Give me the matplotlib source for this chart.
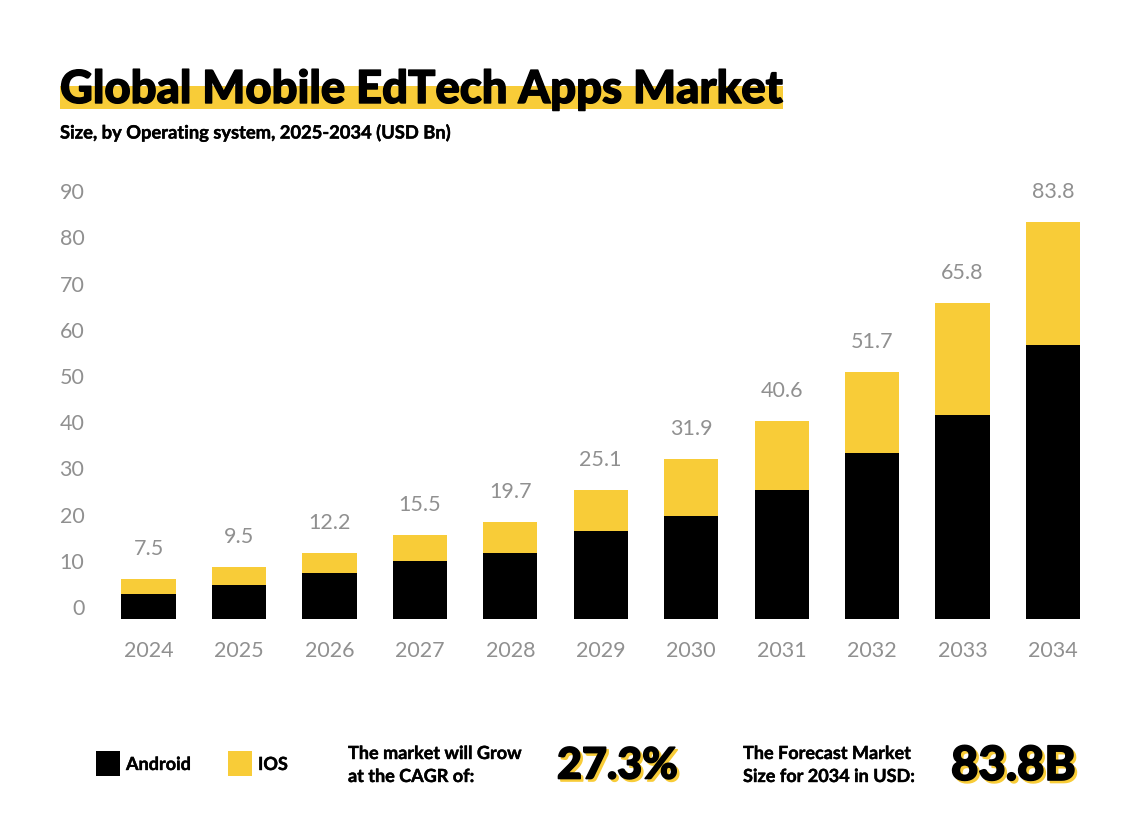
import matplotlib
matplotlib.use("Agg")
import matplotlib.pyplot as plt
import matplotlib.patheffects as pe
from matplotlib.patches import Rectangle
from matplotlib.transforms import ScaledTranslation
import numpy as np

W, H = 1140, 839
YELLOW = '#f8cc38'
GREY = '#909090'

years = ['2024', '2025', '2026', '2027', '2028', '2029', '2030', '2031', '2032', '2033', '2034']
android = [5.4, 7.4, 10.0, 12.6, 14.3, 19.0, 22.3, 27.9, 35.9, 44.2, 59.3]
ios = [3.2, 3.9, 4.3, 5.6, 6.7, 8.9, 12.3, 14.9, 17.5, 24.2, 26.6]
totals = ['7.5', '9.5', '12.2', '15.5', '19.7', '25.1', '31.9', '40.6', '51.7', '65.8', '83.8']
y_ticks = [0, 10, 20, 30, 40, 50, 60, 70, 80, 90]

plt.rcParams['font.family'] = ['Lato', 'DejaVu Sans']


def px_text(x, y, s, size, weight='bold', color='black', ha='left', stroke=0.0):
    # x, y are in image pixels, origin top left
    t = fig.text(x / W, 1 - y / H, s, fontsize=size, fontweight=weight, color=color, ha=ha, va='center_baseline')
    if stroke > 0:
        t.set_path_effects([pe.withStroke(linewidth=stroke, foreground=color)])
    return t


def px_rect(x0, y0, x1, y1, color):
    fig.add_artist(Rectangle((x0 / W, 1 - y1 / H), (x1 - x0) / W, (y1 - y0) / H, transform=fig.transFigure,
                             facecolor=color, edgecolor='none', zorder=0))


fig = plt.figure(figsize=(W / 100, H / 100), dpi=100, facecolor='white')

# axes placed so that 0 sits at y=619 and one unit is 4.62 px
ax_left, ax_right, ax_bottom, ax_top = 103.3, 1098.2, 619, 180
ax = fig.add_axes([ax_left / W, 1 - ax_bottom / H, (ax_right - ax_left) / W, (ax_bottom - ax_top) / H])
x = np.arange(len(years))
ax.bar(x, android, width=0.6, color='black')
ax.bar(x, ios, width=0.6, bottom=android, color=YELLOW)
ax.set_xlim(-0.5, 10.5)
ax.set_ylim(0, 95)

for s in ax.spines.values():
    s.set_visible(False)
ax.set_xticks(x, years)
ax.set_yticks(y_ticks, [str(v) for v in y_ticks])
ax.tick_params(length=0, labelsize=15.5, labelcolor=GREY)
ax.tick_params(axis='x', pad=16)
ax.tick_params(axis='y', pad=13.7)
# y labels sit 12 px above their value in the original
shift = ScaledTranslation(0, 12 / 100, fig.dpi_scale_trans)
for lab in ax.get_yticklabels():
    lab.set_transform(lab.get_transform() + shift)

for i, label in enumerate(totals):
    ax.annotate(label, (x[i], android[i] + ios[i]), xytext=(0, 30 * 0.72), textcoords='offset points',
                ha='center', va='center', fontsize=15.5, color=GREY)

# header
px_rect(60, 86, 783, 109, YELLOW)
px_text(60, 86, 'Global Mobile EdTech Apps Market', 32.7, weight='black', stroke=1.0)
px_text(60, 131, 'Size, by Operating system, 2025-2034 (USD Bn)', 13.2, stroke=0.3)

# legend
px_rect(96, 751, 120, 776, 'black')
px_text(126, 763, 'Android', 13, stroke=0.3)
px_rect(228, 751, 252, 776, YELLOW)
px_text(258, 763, 'IOS', 13, stroke=0.3)

# callouts
px_text(348, 752, 'The market will Grow', 13, stroke=0.3)
px_text(348, 775, 'at the CAGR of:', 13, stroke=0.3)
px_text(743, 752, 'The Forecast Market', 13, stroke=0.3)
px_text(743, 775, 'Size for 2034 in USD:', 13, stroke=0.3)

# big numbers, with a yellow drop shadow
for s, px, size in [('27.3%', 557, 31), ('83.8B', 951, 34)]:
    t = px_text(px, 762, s, size, weight='black')
    t.set_path_effects([
        pe.SimplePatchShadow(offset=(1.8, -1.8), shadow_rgbFace=YELLOW, alpha=1),
        pe.SimpleLineShadow(offset=(1.8, -1.8), shadow_color=YELLOW, alpha=1, linewidth=1.2),
        pe.withStroke(linewidth=1.2, foreground='black'),
    ])

fig.savefig('out.png', dpi=100)
